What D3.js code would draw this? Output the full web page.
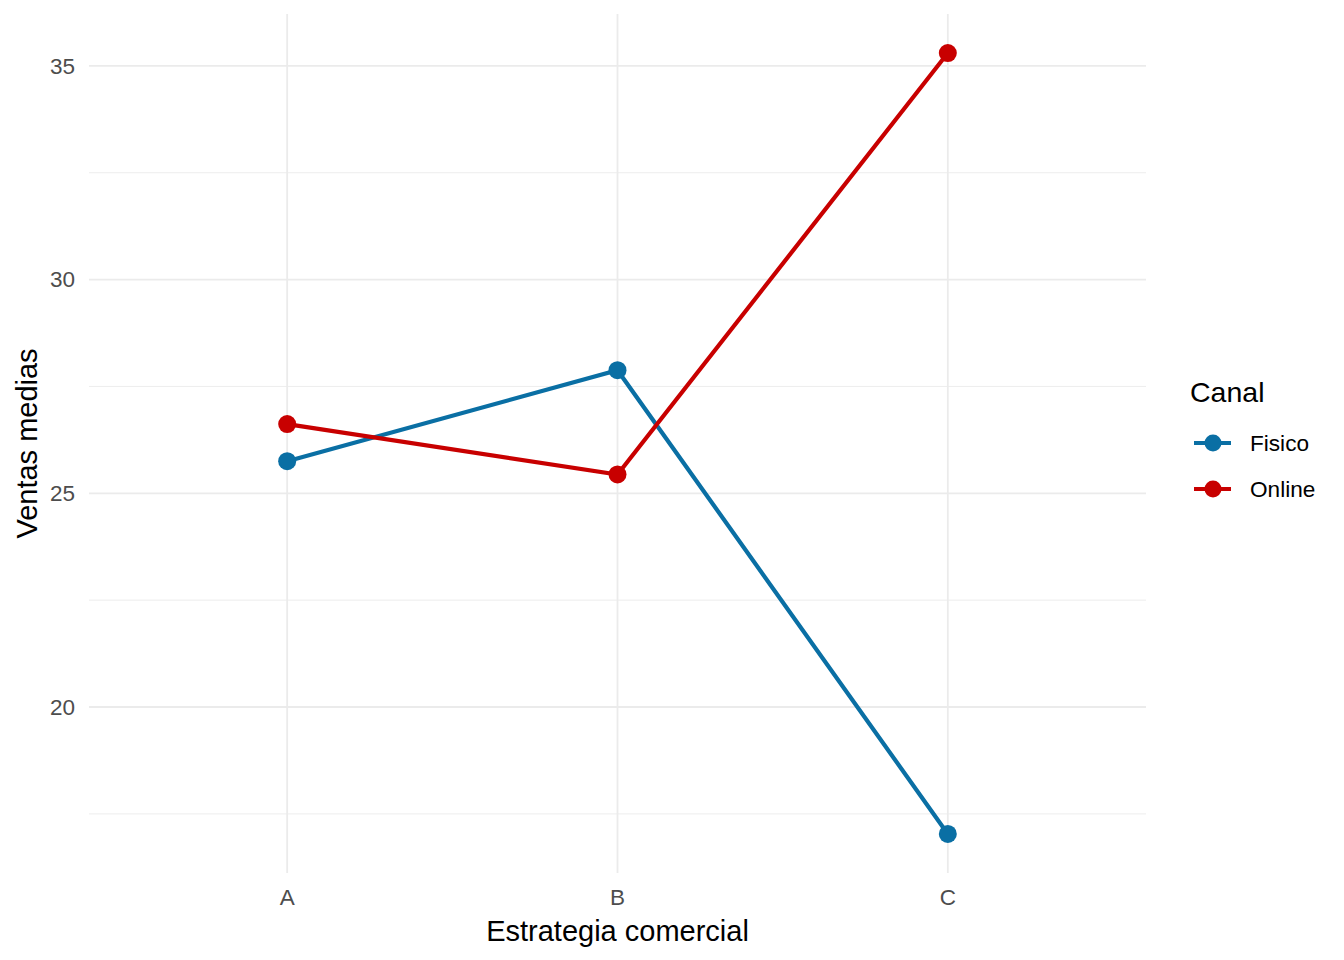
<!DOCTYPE html>
<html>
<head>
<meta charset="utf-8">
<script src="https://cdn.jsdelivr.net/npm/d3@7"></script>
<style>
  body { margin: 0; background: #fff; }
  text { font-family: "Liberation Sans", Arial, sans-serif; }
</style>
</head>
<body>
<div id="graph"></div>
<script>
var estrategias = ['A', 'B', 'C']
var canales = ['Fisico', 'Online']
var fisico = [25.75, 27.88, 17.03]
var online = [26.62, 25.44, 35.30]
var colores = ['#0a6fa4', '#c80000']
var yTicks = [20, 25, 30, 35]
var yMinor = [17.5, 22.5, 27.5, 32.5]

var width = 1344, height = 960
var panel = {left: 89, right: 1146, top: 14, bottom: 873}

var series = canales.map((c, i) => ({
  key: c,
  color: colores[i],
  values: (i == 0 ? fisico : online).map((v, j) => ({x: estrategias[j], y: v}))
}))

var svg = d3.select('#graph').append('svg')
  .attr('width', width).attr('height', height)

// discrete x with ggplot's 0.6 expansion
var xi = d3.scaleLinear().domain([0.4, estrategias.length + 0.6]).range([panel.left, panel.right])
var x = d => xi(estrategias.indexOf(d) + 1)

var all = fisico.concat(online)
var ext = d3.extent(all), pad = (ext[1] - ext[0]) * 0.05
var y = d3.scaleLinear().domain([ext[0] - pad, ext[1] + pad]).range([panel.bottom, panel.top])

// grid
svg.selectAll('line.minor').data(yMinor).join('line')
  .attr('x1', panel.left).attr('x2', panel.right)
  .attr('y1', d => y(d)).attr('y2', d => y(d))
  .attr('stroke', '#ebebeb').attr('stroke-width', 0.9)
svg.selectAll('line.majory').data(yTicks).join('line')
  .attr('x1', panel.left).attr('x2', panel.right)
  .attr('y1', d => y(d)).attr('y2', d => y(d))
  .attr('stroke', '#ebebeb').attr('stroke-width', 1.8)
svg.selectAll('line.majorx').data(estrategias).join('line')
  .attr('x1', d => x(d)).attr('x2', d => x(d))
  .attr('y1', panel.top).attr('y2', panel.bottom)
  .attr('stroke', '#ebebeb').attr('stroke-width', 1.8)

// tick labels
svg.selectAll('text.ytick').data(yTicks).join('text')
  .attr('x', 75).attr('y', d => y(d)).attr('dy', '0.35em')
  .attr('text-anchor', 'end').attr('font-size', 22.5).attr('fill', '#4d4d4d')
  .text(d => d)
svg.selectAll('text.xtick').data(estrategias).join('text')
  .attr('x', d => x(d)).attr('y', 905)
  .attr('text-anchor', 'middle').attr('font-size', 22.5).attr('fill', '#4d4d4d')
  .text(d => d)

// axis titles
svg.append('text').attr('x', (panel.left + panel.right) / 2).attr('y', 941)
  .attr('text-anchor', 'middle').attr('font-size', 29).text('Estrategia comercial')
svg.append('text')
  .attr('transform', `translate(37,${(panel.top + panel.bottom) / 2}) rotate(-90)`)
  .attr('text-anchor', 'middle').attr('font-size', 29).text('Ventas medias')

// lines and points
var line = d3.line().x(d => x(d.x)).y(d => y(d.y))
var g = svg.selectAll('g.serie').data(series).join('g')
g.append('path')
  .attr('d', d => line(d.values))
  .attr('fill', 'none').attr('stroke', d => d.color).attr('stroke-width', 4.2)
g.selectAll('circle').data(d => d.values.map(v => ({...v, color: d.color}))).join('circle')
  .attr('cx', d => x(d.x)).attr('cy', d => y(d.y)).attr('r', 9)
  .attr('fill', d => d.color)

// legend
var lg = svg.append('g').attr('transform', 'translate(1190,0)')
lg.append('text').attr('x', 0).attr('y', 402).attr('font-size', 28.5).text('Canal')
var item = lg.selectAll('g.item').data(series).join('g')
  .attr('transform', (d, i) => `translate(0,${443 + i * 46})`)
item.append('line').attr('x1', 4).attr('x2', 41)
  .attr('stroke', d => d.color).attr('stroke-width', 4.2)
item.append('circle').attr('cx', 23).attr('r', 8.5).attr('fill', d => d.color)
item.append('text').attr('x', 60).attr('dy', '0.36em').attr('font-size', 22.6)
  .text(d => d.key)
</script>
</body>
</html>
